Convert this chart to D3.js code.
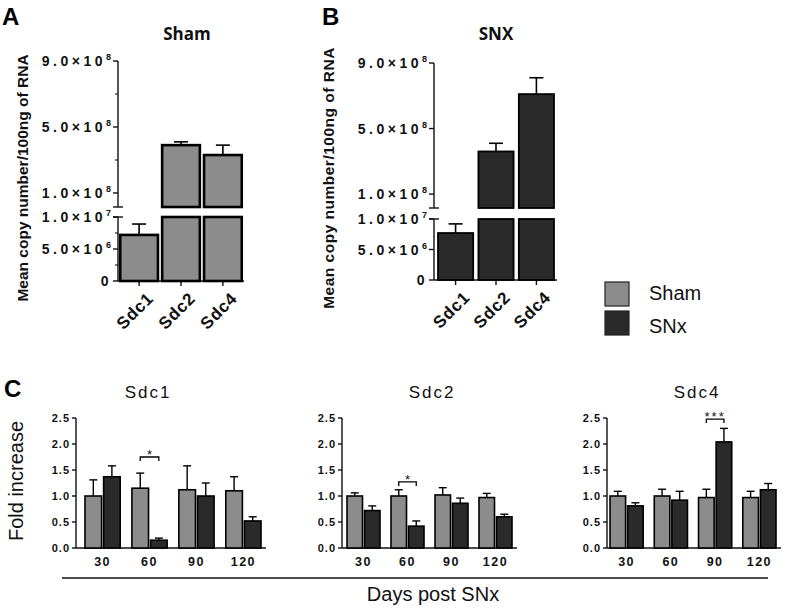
<!DOCTYPE html>
<html><head><meta charset="utf-8">
<script src="https://cdn.jsdelivr.net/npm/d3@7"></script>
<style>body{margin:0;background:#fff} svg{display:block}</style>
</head><body><svg id="c" width="787" height="609"></svg>
<script>
// ---------- Data: panels A & B (copy number) ----------
const genes = ["Sdc1", "Sdc2", "Sdc4"];
const shamCopy = [7.2e6, 3.9e8, 3.3e8];
const shamCopyErr = [1.7e6, 0.2e8, 0.6e8];
const snxCopy = [7.7e6, 3.6e8, 7.1e8];
const snxCopyErr = [1.5e6, 0.5e8, 1.0e8];
const upperTicks = [1e8, 5e8, 9e8];
const upperMinor = [3e8, 7e8];
const lowerTicks = [0, 5e6, 1e7];
const lowerMinor = [2.5e6, 7.5e6];
const upperTickLabels = [["1.0×10", "8"], ["5.0×10", "8"], ["9.0×10", "8"]];
const lowerTickLabels = [["0", ""], ["5.0×10", "6"], ["1.0×10", "7"]];

// ---------- Data: panel C (fold increase) ----------
const days = [30, 60, 90, 120];
const foldGenes = ["Sdc1", "Sdc2", "Sdc4"];
const sdc1Sham = [1.0, 1.15, 1.12, 1.10];
const sdc1ShamErr = [0.31, 0.29, 0.46, 0.27];
const sdc1Snx = [1.37, 0.15, 1.00, 0.52];
const sdc1SnxErr = [0.21, 0.04, 0.25, 0.08];
const sdc2Sham = [1.00, 1.00, 1.02, 0.97];
const sdc2ShamErr = [0.06, 0.12, 0.14, 0.08];
const sdc2Snx = [0.72, 0.42, 0.86, 0.60];
const sdc2SnxErr = [0.09, 0.10, 0.10, 0.05];
const sdc4Sham = [1.00, 1.00, 0.97, 0.97];
const sdc4ShamErr = [0.09, 0.13, 0.16, 0.12];
const sdc4Snx = [0.81, 0.92, 2.04, 1.12];
const sdc4SnxErr = [0.06, 0.17, 0.26, 0.12];
const sigDay = [60, 60, 90];
const sigLevel = [1.75, 1.27, 2.48];
const sigLabel = ["*", "*", "***"];
const foldTicks = [0, 0.5, 1.0, 1.5, 2.0, 2.5];

const legendLabels = ["Sham", "SNx"];
const SHAM = "#8c8c8c", SNX = "#2a2a2a", INK = "#111";

const svg = d3.select("#c");
svg.append("rect").attr("width", 787).attr("height", 609).attr("fill", "#fff");
const SANS = "'Liberation Sans', Arial, sans-serif";

// ---------- Panels A & B ----------
function copyPanel(cfg) {
  const g = svg.append("g");
  const yHi = d3.scaleLinear().domain([1.5e7, 9e8]).range([cfg.hiBottom, cfg.top]);
  const yLo = d3.scaleLinear().domain([0, 1e7]).range([cfg.zero, cfg.loTop]);
  const x = d3.scaleBand().domain(genes).range(cfg.xr).paddingInner(cfg.pi).paddingOuter(cfg.po);
  const ax = cfg.axisX;
  g.append("line").attr("x1", ax).attr("x2", ax).attr("y1", yHi.range()[1]).attr("y2", yHi.range()[0]).attr("stroke", INK).attr("stroke-width", 1.4);
  g.append("line").attr("x1", ax).attr("x2", ax).attr("y1", yLo.range()[1]).attr("y2", yLo.range()[0]).attr("stroke", INK).attr("stroke-width", 1.4);
  g.append("line").attr("x1", ax - 5).attr("x2", ax + 5).attr("y1", yHi.range()[0]).attr("y2", yHi.range()[0]).attr("stroke", INK).attr("stroke-width", 1.4);
  g.append("line").attr("x1", ax - 5).attr("x2", ax + 5).attr("y1", yLo.range()[1]).attr("y2", yLo.range()[1]).attr("stroke", INK).attr("stroke-width", 1.4);
  const tickSets = [[upperTicks, yHi, upperTickLabels], [lowerTicks, yLo, lowerTickLabels]];
  tickSets.forEach(([ticks, sc, labs]) => {
    ticks.forEach((t, i) => {
      g.append("line").attr("x1", ax - 5).attr("x2", ax).attr("y1", sc(t)).attr("y2", sc(t)).attr("stroke", INK).attr("stroke-width", 1.4);
      const tx = g.append("text").attr("x", ax - 6).attr("y", sc(t) + 5).attr("text-anchor", "end")
        .attr("font-family", SANS).attr("font-weight", "bold").attr("font-size", 14).attr("letter-spacing", 3.5).attr("fill", INK);
      tx.append("tspan").text(labs[i][0]);
      if (labs[i][1]) tx.append("tspan").attr("dy", -6).attr("font-size", 9).attr("letter-spacing", 1).text(labs[i][1]);
    });
  });
  if (cfg.minor) {
    upperMinor.forEach(t => g.append("line").attr("x1", ax - 3).attr("x2", ax).attr("y1", yHi(t)).attr("y2", yHi(t)).attr("stroke", INK).attr("stroke-width", 1.1));
    lowerMinor.forEach(t => g.append("line").attr("x1", ax - 3).attr("x2", ax).attr("y1", yLo(t)).attr("y2", yLo(t)).attr("stroke", INK).attr("stroke-width", 1.1));
  }
  g.append("line").attr("x1", ax).attr("x2", cfg.xr[1] + 1).attr("y1", cfg.zero).attr("y2", cfg.zero).attr("stroke", INK).attr("stroke-width", 1.4);
  genes.forEach((gn, i) => {
    const cx = x(gn) + x.bandwidth() / 2;
    g.append("line").attr("x1", cx).attr("x2", cx).attr("y1", cfg.zero).attr("y2", cfg.zero + 5).attr("stroke", INK).attr("stroke-width", 1.4);
    g.append("text").attr("transform", `translate(${cx + 7},${cfg.zero + 10}) rotate(-45)`)
      .attr("text-anchor", "end").attr("dy", "0.7em").attr("font-family", SANS).attr("font-weight", "bold")
      .attr("font-size", 17).attr("letter-spacing", 0.8).attr("fill", INK).text(gn);
  });
  const vals = cfg.vals, errs = cfg.errs;
  genes.forEach((gn, i) => {
    const v = vals[i], e = errs[i];
    const bx = x(gn), bw = x.bandwidth();
    const lowTop = yLo(Math.min(v, 1e7));
    g.append("rect").attr("x", bx).attr("y", lowTop).attr("width", bw).attr("height", cfg.zero - lowTop)
      .attr("fill", cfg.fill).attr("stroke", "#000").attr("stroke-width", cfg.sw);
    let sc = yLo;
    if (v > 1e7) {
      sc = yHi;
      g.append("rect").attr("x", bx).attr("y", yHi(v)).attr("width", bw).attr("height", yHi.range()[0] - yHi(v))
        .attr("fill", cfg.fill).attr("stroke", "#000").attr("stroke-width", cfg.sw);
    }
    const cx = bx + bw / 2;
    g.append("line").attr("x1", cx).attr("x2", cx).attr("y1", sc(v)).attr("y2", sc(v + e)).attr("stroke", "#000").attr("stroke-width", 1.6);
    g.append("line").attr("x1", cx - 7).attr("x2", cx + 7).attr("y1", sc(v + e)).attr("y2", sc(v + e)).attr("stroke", "#000").attr("stroke-width", 1.6);
  });
  g.append("text").attr("transform", `translate(${cfg.labelX},${cfg.labelY}) rotate(-90)`).attr("text-anchor", "middle")
    .attr("font-family", SANS).attr("font-weight", "bold").attr("font-size", 15.5).attr("fill", INK)
    .attr("letter-spacing", cfg.labelLs).text("Mean copy number/100ng of RNA");
  g.append("text").attr("x", cfg.titleX).attr("y", 40).attr("text-anchor", "middle")
    .attr("font-family", "'Open Sans', sans-serif").attr("font-weight", "bold").attr("font-size", 17).attr("fill", INK).text(cfg.title);
  g.append("text").attr("x", cfg.letterX).attr("y", 25).attr("font-family", SANS).attr("font-weight", "bold")
    .attr("font-size", 24).attr("fill", "#000").text(cfg.letter);
}

copyPanel({letter: "A", letterX: 2, title: "Sham", titleX: 187, axisX: 118, top: 61, hiBottom: 207, loTop: 217, zero: 281,
  xr: [119, 243], pi: 0.1, po: 0.03, vals: shamCopy, errs: shamCopyErr, fill: SHAM, sw: 2.6, minor: true,
  labelX: 28, labelY: 178, labelLs: 0});
copyPanel({letter: "B", letterX: 322, title: "SNX", titleX: 496, axisX: 434, top: 63, hiBottom: 208, loTop: 219, zero: 280,
  xr: [436, 556], pi: 0.13, po: 0.05, vals: snxCopy, errs: snxCopyErr, fill: SNX, sw: 1.8, minor: false,
  labelX: 334, labelY: 178, labelLs: 0.5});

// ---------- Legend ----------
legendLabels.forEach((lab, i) => {
  svg.append("rect").attr("x", 605).attr("y", 282 + i * 29).attr("width", 24).attr("height", 24)
    .attr("fill", i === 0 ? SHAM : SNX).attr("stroke", "#222").attr("stroke-width", 1.2);
  svg.append("text").attr("x", 649).attr("y", 300 + i * 33).attr("font-family", SANS).attr("font-size", 20)
    .attr("fill", INK).text(lab);
});

// ---------- Panel C ----------
const foldSets = [
  [sdc1Sham, sdc1ShamErr, sdc1Snx, sdc1SnxErr],
  [sdc2Sham, sdc2ShamErr, sdc2Snx, sdc2SnxErr],
  [sdc4Sham, sdc4ShamErr, sdc4Snx, sdc4SnxErr]
];
const subLayout = [{axis: 76, start: 85, end: 261, title: 148}, {axis: 342, start: 347, end: 512, title: 432}, {axis: 607, start: 610, end: 776, title: 697}];
const yF = d3.scaleLinear().domain([0, 2.5]).range([548, 418]);

foldGenes.forEach((gn, k) => {
  const L = subLayout[k];
  const [sh, shE, sn, snE] = foldSets[k];
  const g = svg.append("g");
  const x = d3.scaleBand().domain(days).range([L.start, L.end]).paddingInner(0.25).paddingOuter(0);
  const bw = (x.bandwidth() - 2) / 2;
  g.append("line").attr("x1", L.axis).attr("x2", L.axis).attr("y1", yF(2.5)).attr("y2", yF(0)).attr("stroke", INK).attr("stroke-width", 1.4);
  foldTicks.forEach(t => {
    g.append("line").attr("x1", L.axis - 4).attr("x2", L.axis).attr("y1", yF(t)).attr("y2", yF(t)).attr("stroke", INK).attr("stroke-width", 1.4);
    g.append("text").attr("x", L.axis - 6).attr("y", yF(t) + 4).attr("text-anchor", "end").attr("font-family", SANS)
      .attr("font-weight", "bold").attr("font-size", 11).attr("letter-spacing", 1).attr("fill", INK).text(t.toFixed(1));
  });
  g.append("line").attr("x1", L.axis).attr("x2", L.end + 5).attr("y1", yF(0)).attr("y2", yF(0)).attr("stroke", INK).attr("stroke-width", 1.4);
  days.forEach((d, i) => {
    const gx = x(d);
    const cx = gx + x.bandwidth() / 2;
    g.append("text").attr("x", cx).attr("y", 566).attr("text-anchor", "middle").attr("font-family", SANS)
      .attr("font-weight", "bold").attr("font-size", 12.5).attr("letter-spacing", 1.5).attr("fill", INK).text(d);
    const bars = [[sh[i], shE[i], SHAM, gx], [sn[i], snE[i], SNX, gx + bw + 2]];
    bars.forEach(([v, e, col, bx]) => {
      g.append("rect").attr("x", bx).attr("y", yF(v)).attr("width", bw).attr("height", yF(0) - yF(v))
        .attr("fill", col).attr("stroke", "#000").attr("stroke-width", 1.6);
      const c = bx + bw / 2;
      g.append("line").attr("x1", c).attr("x2", c).attr("y1", yF(v)).attr("y2", yF(v + e)).attr("stroke", "#000").attr("stroke-width", 1.4);
      g.append("line").attr("x1", c - 4).attr("x2", c + 4).attr("y1", yF(v + e)).attr("y2", yF(v + e)).attr("stroke", "#000").attr("stroke-width", 1.4);
    });
    if (d === sigDay[k]) {
      const x1 = gx + bw / 2, x2 = gx + bw + 2 + bw / 2, yy = yF(sigLevel[k]);
      g.append("path").attr("d", `M${x1},${yy + 4}V${yy}H${x2}V${yy + 4}`).attr("fill", "none").attr("stroke", "#000").attr("stroke-width", 1.3);
      g.append("text").attr("x", (x1 + x2) / 2).attr("y", yy + 2).attr("text-anchor", "middle").attr("font-family", SANS)
        .attr("font-size", 13).attr("letter-spacing", sigLabel[k].length > 1 ? 2 : 0).attr("fill", INK).text(sigLabel[k]);
    }
  });
  g.append("text").attr("x", L.title).attr("y", 398).attr("text-anchor", "middle").attr("font-family", SANS)
    .attr("font-size", 17).attr("letter-spacing", 2).attr("fill", INK).text(gn);
});

svg.append("line").attr("x1", 62).attr("x2", 768).attr("y1", 578).attr("y2", 578).attr("stroke", INK).attr("stroke-width", 1.4);
svg.append("text").attr("x", 433).attr("y", 601).attr("text-anchor", "middle").attr("font-family", SANS)
  .attr("font-size", 20).attr("fill", INK).text("Days post SNx");
svg.append("text").attr("transform", "translate(23,481) rotate(-90)").attr("text-anchor", "middle").attr("font-family", SANS)
  .attr("font-size", 20).attr("fill", INK).text("Fold increase");
svg.append("text").attr("x", 4).attr("y", 397).attr("font-family", SANS).attr("font-weight", "bold")
  .attr("font-size", 24).attr("fill", "#000").text("C");
</script></body></html>
